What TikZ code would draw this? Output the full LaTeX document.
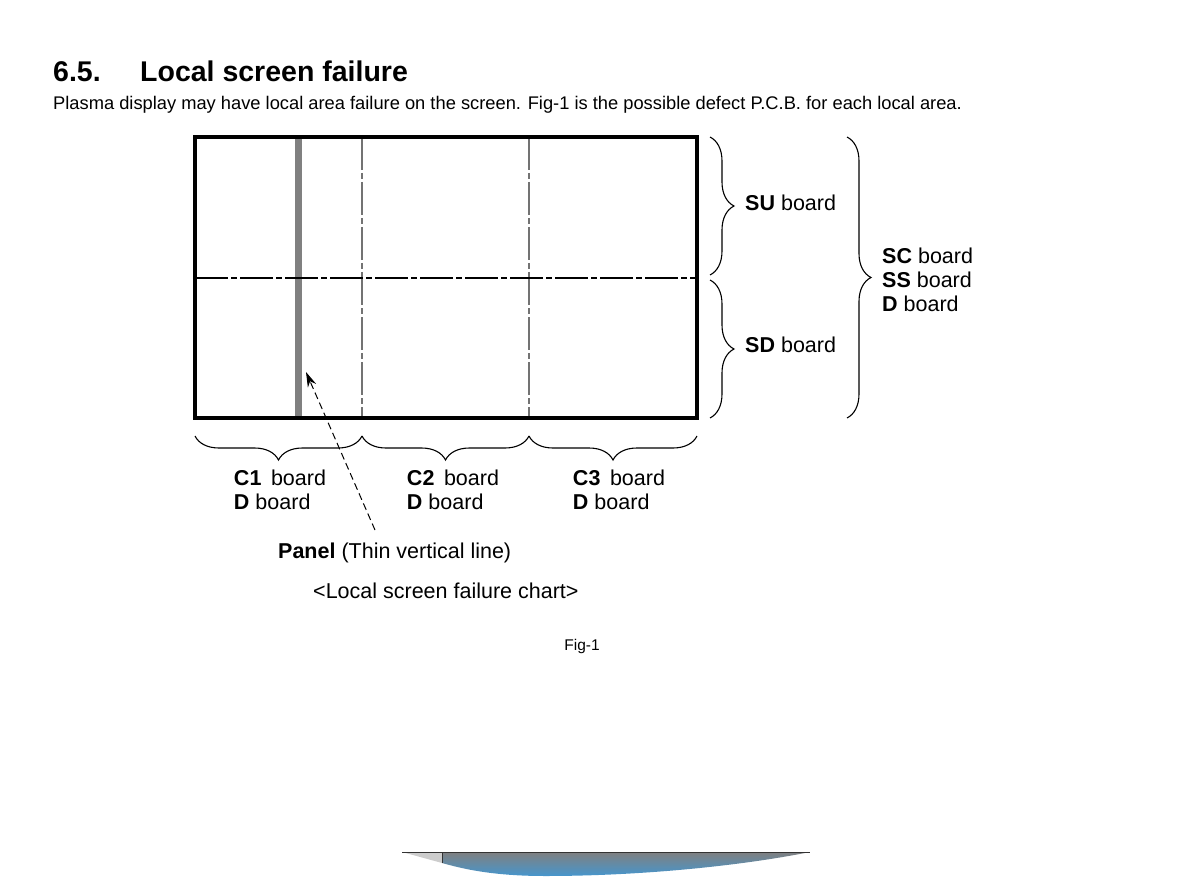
\documentclass[tikz,border=0pt]{standalone}
\usepackage{fontspec}
\setmainfont{Liberation Sans}
\usetikzlibrary{positioning, calc, decorations.pathreplacing, arrows.meta}
\definecolor{skyblue}{RGB}{70,150,205}

\tikzset{
  lbl/.style={font=\fontsize{21.5}{24}\selectfont, inner sep=0pt},
  chain/.style={line width=1.3pt, dash pattern=on 33pt off 3pt on 6pt off 3pt},
  brc/.style={decorate, decoration={brace, amplitude=24pt}, line width=1.1pt},
}

\begin{document}
\begin{tikzpicture}[x=1pt,y=-1pt]
\useasboundingbox (0,0) rectangle (1180,877);

% heading
\node[font=\fontsize{28.5}{30}\selectfont\bfseries, inner sep=0pt, anchor=base west] (num) at (53,82) {6.5.};
\node[font=\fontsize{28.5}{30}\selectfont\bfseries, inner sep=0pt, anchor=base west] (title) at (140,82) {Local screen failure};
\node[font=\fontsize{18.3}{20}\selectfont, inner sep=0pt, anchor=base west] (intro) at (53,110) {Plasma display may have local area failure on the screen. Fig-1 is the possible defect P.C.B. for each local area.};

% screen
\coordinate (tl) at (195,137);
\coordinate (br) at (697,418);
\coordinate (c12) at (362,137);
\coordinate (c23) at (529,137);
\coordinate (mid) at (195,278);
\fill[black!50] (295,137) rectangle (302,418);
\draw[chain, black!55] (c12) -- (c12 |- br);
\draw[chain, black!55] (c23) -- (c23 |- br);
\draw[chain, black] (mid) -- (mid -| br);
\draw[line width=3.5pt] (tl) rectangle (br);

% braces on the right
\draw[brc] (710,137) -- (710,275);
\draw[brc] (710,280) -- (710,418);
\draw[brc] (847,137) -- (847,418);
\coordinate (sutip) at (734,203);
\coordinate (sdtip) at (734,345);
\coordinate (sctip) at (871,280);
\node[lbl, right=11pt of sutip] (su) {\textbf{SU} board};
\node[lbl, right=11pt of sdtip] (sd) {\textbf{SD} board};
\node[lbl, right=11pt of sctip, align=left] (sc) {\textbf{SC} board\\\textbf{SS} board\\\textbf{D} board};

% braces below
\draw[brc, decoration={mirror}] (195,436) -- (362,436);
\draw[brc, decoration={mirror}] (362,436) -- (529,436);
\draw[brc, decoration={mirror}] (529,436) -- (697,436);
\coordinate (c1tip) at (280,460);
\coordinate (c2tip) at (453,460);
\coordinate (c3tip) at (619,460);
\node[lbl, below=10pt of c1tip, align=left] (c1) {\textbf{C1}\, board\\\textbf{D} board};
\node[lbl, below=10pt of c2tip, align=left] (c2) {\textbf{C2}\, board\\\textbf{D} board};
\node[lbl, below=10pt of c3tip, align=left] (c3) {\textbf{C3}\, board\\\textbf{D} board};

% panel defect
\node[lbl, anchor=base west] (panel) at (278,558) {\textbf{Panel} (Thin vertical line)};
\node[lbl, anchor=base west] (chart) at (313,598) {<Local screen failure chart>};
\node[font=\fontsize{15.5}{17}\selectfont, inner sep=0pt, anchor=base] (fig) at (582,650) {Fig-1};
\coordinate (tail) at (375,530);
\coordinate (defect) at (306,372);
\draw[line width=1pt, dash pattern=on 7pt off 4pt, -{Stealth[length=15pt,width=9pt]}] (tail) -- (defect);

% bit of a window at the bottom
\shade[top color=black!50, bottom color=skyblue] (442,852) -- (810,852) .. controls (740,866) and (640,876) .. (545,876) .. controls (490,876) and (460,868) .. (442,863) -- cycle;
\fill[black!20] (402,852) -- (442,852) -- (442,863) -- cycle;
\draw[black!80, line width=1pt] (402,852) -- (810,852);
\draw[black!80, line width=1pt] (442,852) -- (442,863);
\end{tikzpicture}
\end{document}
